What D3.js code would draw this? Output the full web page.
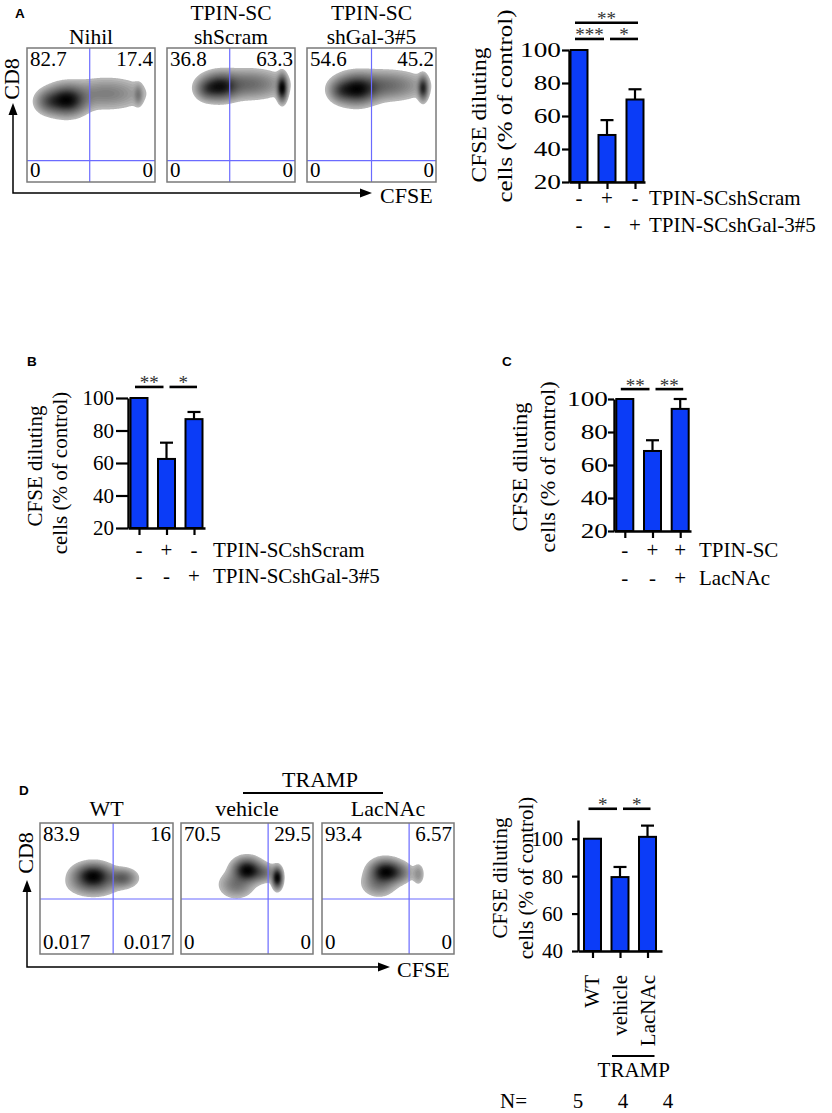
<!DOCTYPE html>
<html><head><meta charset="utf-8">
<script src="https://cdn.jsdelivr.net/npm/d3@7/dist/d3.min.js"></script>
<style>
body{margin:0;background:#fff}
svg{display:block}
</style>
</head><body>
<svg id="fig" width="832" height="1113"></svg>
<script>
// ---------------- DATA ----------------
// Panel A flow plots
const flowATitles = [["Nihil"], ["TPIN-SC", "shScram"], ["TPIN-SC", "shGal-3#5"]];
const flowAQuadrants = [["82.7", "17.4", "0", "0"], ["36.8", "63.3", "0", "0"], ["54.6", "45.2", "0", "0"]];
const flowAGateX = [0.49, 0.49, 0.50];
const flowAGateY = [0.16, 0.16, 0.16];
// density components: [cx, cy, sx, sy, weight] in gate units (0-1)
const flowABlobs = [
  [[0.31, 0.61, 0.085, 0.06, 1.0], [0.62, 0.66, 0.17, 0.065, 0.25], [0.17, 0.60, 0.06, 0.05, 0.35], [0.87, 0.65, 0.02, 0.045, 0.22]],
  [[0.41, 0.71, 0.08, 0.055, 0.9], [0.63, 0.73, 0.16, 0.06, 0.4], [0.90, 0.70, 0.022, 0.055, 1.1], [0.31, 0.69, 0.05, 0.045, 0.3]],
  [[0.38, 0.69, 0.09, 0.06, 1.0], [0.60, 0.72, 0.17, 0.06, 0.4], [0.90, 0.70, 0.022, 0.05, 0.8], [0.26, 0.68, 0.05, 0.045, 0.3]]
];
// Panel D flow plots
const flowDTitles = ["WT", "vehicle", "LacNAc"];
const flowDGroup = "TRAMP";
const flowDQuadrants = [["83.9", "16", "0.017", "0.017"], ["70.5", "29.5", "0", "0"], ["93.4", "6.57", "0", "0"]];
const flowDGateX = [0.55, 0.66, 0.66];
const flowDGateY = [0.42, 0.42, 0.42];
const flowDBlobs = [
  [[0.40, 0.60, 0.08, 0.05, 1.0], [0.62, 0.58, 0.06, 0.04, 0.45], [0.40, 0.53, 0.1, 0.05, 0.3]],
  [[0.50, 0.64, 0.06, 0.05, 1.0], [0.73, 0.58, 0.022, 0.045, 1.0], [0.42, 0.53, 0.07, 0.055, 0.3], [0.62, 0.62, 0.06, 0.04, 0.3]],
  [[0.48, 0.63, 0.065, 0.05, 1.0], [0.73, 0.61, 0.025, 0.045, 0.18], [0.43, 0.54, 0.07, 0.055, 0.3], [0.58, 0.62, 0.06, 0.045, 0.3]]
];

// Bar charts
const yLabelLines = ["CFSE diluting", "cells (% of control)"];
const barAValues = [100, 48.5, 70];
const barAErrors = [0, 9, 6.2];
const barBValues = [100, 62.5, 87];
const barBErrors = [0, 10, 4.4];
const barCValues = [100, 68.5, 94];
const barCErrors = [0, 6.5, 6];
const barDValues = [100, 79.5, 101];
const barDErrors = [0, 5.4, 6];
const ticksABC = [20, 40, 60, 80, 100];
const ticksD = [40, 60, 80, 100];
const rowsAB = [["TPIN-SCshScram", ["-", "+", "-"]], ["TPIN-SCshGal-3#5", ["-", "-", "+"]]];
const rowsC = [["TPIN-SC", ["-", "+", "+"]], ["LacNAc", ["-", "-", "+"]]];
const barDCategories = ["WT", "vehicle", "LacNAc"];
const barDGroup = "TRAMP";
const barDN = ["5", "4", "4"];
// significance: [from, to, label, level (y units)]
const sigA = [[0, 2, "**", 116.5], [0, 1, "***", 106.7], [1, 2, "*", 106.7]];
const sigB = [[0, 1, "**", 106.8], [1, 2, "*", 106.8]];
const sigC = [[0, 1, "**", 106], [1, 2, "**", 106]];
const sigD = [[0, 1, "*", 116], [1, 2, "*", 116]];

// ---------------- DRAW ----------------
const SERIF = '"Liberation Serif","Times New Roman",serif';
const SANS = '"Liberation Sans",Arial,sans-serif';
const BLUE = "#0b3cf7";
const svg = d3.select("#fig");

function txt(g, x, y, s, size, anchor) {
  return g.append("text").attr("x", x).attr("y", y).text(s)
    .attr("font-family", SERIF).attr("font-size", size)
    .attr("text-anchor", anchor || "start").attr("fill", "#000");
}

// panel letters
[["A", 15, 18], ["B", 27, 366], ["C", 502, 366], ["D", 19, 795]].forEach(([l, x, y]) => {
  svg.append("text").attr("x", x).attr("y", y).text(l)
    .attr("font-family", SANS).attr("font-weight", "bold").attr("font-size", 13.5);
});

const greyOf = v => d3.interpolateGreys(0.26 + 0.74 * Math.pow(v, 0.55));

function drawFlow(box, comps, gx, gy, quad) {
  const g = svg.append("g");
  const xs = d3.scaleLinear([0, 1], [box.x, box.x + box.w]);
  const ys = d3.scaleLinear([0, 1], [box.y + box.h, box.y]);
  const nx = 160, ny = 160;
  const vals = new Array(nx * ny);
  for (let j = 0; j < ny; j++) for (let i = 0; i < nx; i++) {
    const u = (i + 0.5) / nx, v = 1 - (j + 0.5) / ny;
    let s = 0;
    for (const [cx, cy, sx, sy, w] of comps) {
      const dx = (u - cx) / sx, dy = (v - cy) / sy;
      s += w * Math.exp(-0.5 * (dx * dx + dy * dy));
    }
    vals[j * nx + i] = s;
  }
  const mx = d3.max(vals);
  for (let k = 0; k < vals.length; k++) vals[k] /= mx;
  const cs = d3.contours().size([nx, ny]).thresholds(d3.range(0.045, 1.0, 0.025))(vals);
  const proj = d3.geoTransform({
    point(px, py) { this.stream.point(xs(px / nx), ys(1 - py / ny)); }
  });
  const path = d3.geoPath(proj);
  g.selectAll("path.blob").data(cs).join("path").attr("class", "blob")
    .attr("d", path).attr("fill", d => greyOf(d.value)).attr("stroke", "none");
  // gates
  g.append("line").attr("x1", xs(gx)).attr("x2", xs(gx)).attr("y1", ys(0)).attr("y2", ys(1))
    .attr("stroke", "#6b6bff").attr("stroke-width", 1.2);
  g.append("line").attr("x1", xs(0)).attr("x2", xs(1)).attr("y1", ys(gy)).attr("y2", ys(gy))
    .attr("stroke", "#6b6bff").attr("stroke-width", 1.2);
  g.append("rect").attr("x", box.x).attr("y", box.y).attr("width", box.w).attr("height", box.h)
    .attr("fill", "none").attr("stroke", "#7a7a7a").attr("stroke-width", 1.5);
  txt(g, box.x + 3, box.y + 18, quad[0], 21);
  txt(g, box.x + box.w - 2, box.y + 18, quad[1], 21, "end");
  txt(g, box.x + 3, box.y + box.h - 5, quad[2], 21);
  txt(g, box.x + box.w - 2, box.y + box.h - 5, quad[3], 21, "end");
}

function arrows(ax, ay, topY, rightX, cd8Y, cfseX, cfseY) {
  const g = svg.append("g");
  g.append("path").attr("d", `M${ax},${topY + 10}V${ay}H${rightX - 10}`)
    .attr("fill", "none").attr("stroke", "#000").attr("stroke-width", 1.5);
  g.append("path").attr("d", `M${ax},${topY}L${ax - 4.5},${topY + 12}L${ax + 4.5},${topY + 12}Z`).attr("fill", "#000");
  g.append("path").attr("d", `M${rightX},${ay}L${rightX - 12},${ay - 4.5}L${rightX - 12},${ay + 4.5}Z`).attr("fill", "#000");
  txt(g, 0, 0, "CD8", 22, "middle").attr("transform", `translate(${ax + 6},${cd8Y}) rotate(-90)`);
  txt(g, cfseX, cfseY, "CFSE", 22);
}

// Panel A flow
const boxesA = [{x: 27, y: 48, w: 128, h: 134}, {x: 167, y: 48, w: 128, h: 134}, {x: 307, y: 48, w: 129, h: 134}];
boxesA.forEach((b, i) => {
  drawFlow(b, flowABlobs[i], flowAGateX[i], flowAGateY[i], flowAQuadrants[i]);
  const lines = flowATitles[i];
  lines.forEach((l, k) => txt(svg, b.x + b.w / 2, 44 - (lines.length - 1 - k) * 24, l, 21.5, "middle"));
});
arrows(13, 193, 103, 372, 79, 380, 203);

// Panel D flow
const boxesD = [{x: 40, y: 823, w: 133, h: 131}, {x: 181, y: 823, w: 132, h: 131}, {x: 322, y: 823, w: 132, h: 131}];
boxesD.forEach((b, i) => {
  drawFlow(b, flowDBlobs[i], flowDGateX[i], flowDGateY[i], flowDQuadrants[i]);
  txt(svg, b.x + b.w / 2, 816, flowDTitles[i], 22, "middle");
});
txt(svg, 320, 787, flowDGroup, 22, "middle");
svg.append("line").attr("x1", 243).attr("x2", 383).attr("y1", 793).attr("y2", 793)
  .attr("stroke", "#000").attr("stroke-width", 2);
arrows(27, 967, 880, 390, 853, 397, 977);

// Bar charts
function drawBars(c) {
  const g = svg.append("g");
  const n = c.values.length;
  const x = d3.scalePoint().domain(d3.range(n)).range(c.xr).padding(c.pad);
  const y = d3.scaleLinear().domain(c.domain).range(c.yr);
  const bw = 17;
  // error bars
  c.values.forEach((v, i) => {
    if (c.errors[i] > 0) {
      const top = y(v + c.errors[i]);
      g.append("line").attr("x1", x(i)).attr("x2", x(i)).attr("y1", y(v)).attr("y2", top)
        .attr("stroke", "#000").attr("stroke-width", 2.2);
      g.append("line").attr("x1", x(i) - 6.5).attr("x2", x(i) + 6.5).attr("y1", top).attr("y2", top)
        .attr("stroke", "#000").attr("stroke-width", 2.2);
    }
  });
  g.selectAll("rect.bar").data(c.values).join("rect").attr("class", "bar")
    .attr("x", (d, i) => x(i) - bw / 2).attr("width", bw)
    .attr("y", d => y(d)).attr("height", d => y(c.domain[0]) - y(d))
    .attr("fill", BLUE).attr("stroke", "#000").attr("stroke-width", 2);
  // y axis
  const ya = g.append("g").attr("transform", `translate(${c.xr[0]},0)`)
    .call(d3.axisLeft(y).tickValues(c.ticks).tickSize(c.tickSize).tickPadding(c.tickPad).tickSizeOuter(0));
  ya.select(".domain").attr("stroke-width", 2.4);
  ya.selectAll(".tick line").attr("stroke-width", 2.2);
  ya.selectAll(".tick text").attr("font-family", SERIF).attr("font-size", 21).attr("fill", "#000")
    .attr("x", -(c.tickSize + c.tickPad) / c.stretch).attr("transform", `scale(${c.stretch},1)`).attr("dy", "0.33em");
  // x axis
  const xa = g.append("g").attr("transform", `translate(0,${y(c.domain[0])})`)
    .call(d3.axisBottom(x).tickSize(7).tickFormat("").tickSizeOuter(0));
  xa.select(".domain").attr("stroke-width", 2.4);
  xa.selectAll(".tick line").attr("stroke-width", 2.2);
  // y label
  yLabelLines.forEach((l, k) => {
    const t = txt(g, 0, 0, l, 21, "middle").attr("transform", `translate(${c.ylab.x[k]},${c.ylab.cy[k]}) rotate(-90)`);
    if (c.ylab.len) t.attr("textLength", c.ylab.len[k]).attr("lengthAdjust", "spacingAndGlyphs");
  });
  // significance
  c.sig.forEach(([a, b, lab, lev]) => {
    const x1 = x(a) + (a > 0 ? 3 : -4), x2 = x(b) + (b < n - 1 ? -3 : 3);
    const yy = y(lev);
    g.append("line").attr("x1", x1).attr("x2", x2).attr("y1", yy).attr("y2", yy)
      .attr("stroke", "#000").attr("stroke-width", 2.6);
    txt(g, (x1 + x2) / 2, yy + 2.5, lab, 19, "middle").attr("fill", "#333");
  });
  // treatment rows
  if (c.rows) {
    c.rows.forEach(([name, signs], r) => {
      signs.forEach((s, i) => txt(g, x(i), c.rowY[r], s, 21, "middle"));
      txt(g, c.rowX, c.rowY[r], name, 21);
    });
  }
  return {x, y, g};
}

drawBars({values: barAValues, errors: barAErrors, sig: sigA, domain: [20, 100], ticks: ticksABC,
  xr: [569, 645], pad: 0.357, yr: [182, 50], tickSize: 7, tickPad: 1, stretch: 1.3,
  ylab: {x: [486, 512], cy: [115, 106], len: [135, 193]}, rows: rowsAB, rowY: [205, 232], rowX: 649});

drawBars({values: barBValues, errors: barBErrors, sig: sigB, domain: [20, 100], ticks: ticksABC,
  xr: [128, 205], pad: 0.4, yr: [528, 398], tickSize: 12, tickPad: 2, stretch: 1.0,
  ylab: {x: [42, 67], cy: [466, 473]}, rows: rowsAB, rowY: [557, 583], rowX: 213});

drawBars({values: barCValues, errors: barCErrors, sig: sigC, domain: [20, 100], ticks: ticksABC,
  xr: [614, 691], pad: 0.39, yr: [531, 399], tickSize: 6, tickPad: 0, stretch: 1.3,
  ylab: {x: [527, 555], cy: [467, 467], len: [129, 171]}, rows: rowsC, rowY: [557, 585], rowX: 699});

const dChart = drawBars({values: barDValues, errors: barDErrors, sig: sigD, domain: [40, 110], ticks: ticksD,
  xr: [578, 662], pad: 0.527, yr: [951, 820], tickSize: 6, tickPad: 9, stretch: 1.0,
  ylab: {x: [507, 533], cy: [878, 878]}});
barDCategories.forEach((cat, i) => {
  txt(svg, 0, 0, cat, 21, "end").attr("transform", `translate(${dChart.x(i) + 7},975) rotate(-90)`);
});
svg.append("line").attr("x1", dChart.x(1) - 8).attr("x2", dChart.x(2) + 7).attr("y1", 1056).attr("y2", 1056)
  .attr("stroke", "#000").attr("stroke-width", 2);
txt(svg, (dChart.x(1) + dChart.x(2)) / 2, 1077, barDGroup, 21, "middle");
const nScale = d3.scalePoint().domain(d3.range(barDN.length)).range([578, 668]);
txt(svg, 527, 1108, "N=", 21, "end");
barDN.forEach((v, i) => txt(svg, nScale(i), 1108, v, 21, "middle"));
</script>
</body></html>
